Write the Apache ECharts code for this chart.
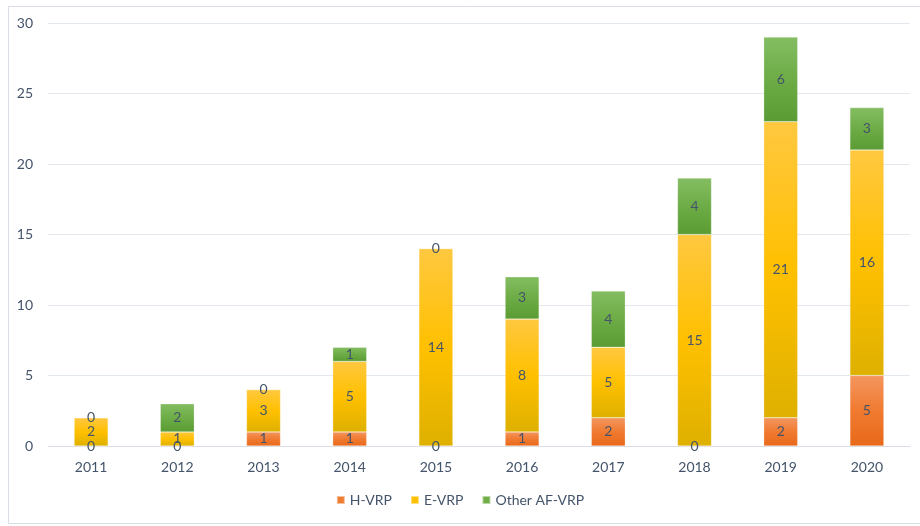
<!DOCTYPE html>
<html>
<head>
<meta charset="utf-8">
<script src="https://cdn.jsdelivr.net/npm/echarts@6/dist/echarts.min.js"></script>
<style>
  html, body { margin: 0; padding: 0; background: #fff; }
  #chart { width: 920px; height: 526px; }
</style>
</head>
<body>
<div id="chart"></div>
<script>
  var years = ['2011', '2012', '2013', '2014', '2015', '2016', '2017', '2018', '2019', '2020']
  var hVrp = [0, 0, 1, 1, 0, 1, 2, 0, 2, 5]
  var eVrp = [2, 1, 3, 5, 14, 8, 5, 15, 21, 16]
  var otherVrp = [0, 2, 0, 1, 0, 3, 4, 4, 6, 3]

  var textColor = '#44546a'
  var font = 'Lato, "Open Sans", sans-serif'

  // excel-like three stop gradient: light top, base in middle, darker bottom
  function grad(top, mid, bottom) {
    return new echarts.graphic.LinearGradient(0, 0, 0, 1, [
      { offset: 0, color: top },
      { offset: 0.5, color: mid },
      { offset: 1, color: bottom }
    ])
  }

  function makeSeries(name, data, top, mid, bottom) {
    return {
      name: name,
      type: 'bar',
      stack: 'total',
      barWidth: 34,
      data: data,
      itemStyle: {
        color: grad(top, mid, bottom),
        borderColor: 'rgba(255,255,255,0.5)',
        borderWidth: 0.5
      },
      label: {
        show: true,
        position: 'inside',
        color: textColor,
        fontSize: 14,
        fontFamily: font
      }
    }
  }

  var chart = echarts.init(document.getElementById('chart'))
  chart.setOption({
    animation: false,
    graphic: [{
      type: 'rect',
      left: 6,
      top: 4,
      shape: { width: 912, height: 517 },
      style: { fill: 'none', stroke: '#d9dee6', lineWidth: 1 },
      silent: true
    }],
    grid: {
      left: 48,
      right: 10,
      top: 23,
      bottom: 80
    },
    legend: {
      bottom: 14,
      left: 'center',
      itemWidth: 8,
      itemHeight: 8,
      itemGap: 18,
      icon: 'rect',
      textStyle: { color: textColor, fontSize: 14, fontFamily: font },
      data: [
        { name: 'H-VRP', itemStyle: { color: '#ed7d31' } },
        { name: 'E-VRP', itemStyle: { color: '#ffc000' } },
        { name: 'Other AF-VRP', itemStyle: { color: '#70ad47' } }
      ]
    },
    xAxis: {
      type: 'category',
      data: years,
      axisLine: { lineStyle: { color: '#d9dee6' } },
      axisTick: { show: false },
      axisLabel: { color: textColor, fontSize: 14, fontFamily: font, margin: 14 }
    },
    yAxis: {
      type: 'value',
      min: 0,
      max: 30,
      interval: 5,
      splitLine: { lineStyle: { color: '#e3e7ee' } },
      axisLabel: { color: textColor, fontSize: 14, fontFamily: font, margin: 15 }
    },
    series: [
      makeSeries('H-VRP', hVrp, '#f4965f', '#f07a30', '#e8691a'),
      makeSeries('E-VRP', eVrp, '#ffc840', '#ffc000', '#deb000'),
      makeSeries('Other AF-VRP', otherVrp, '#84bd62', '#6dac46', '#5a9c33')
    ]
  })
</script>
</body>
</html>
